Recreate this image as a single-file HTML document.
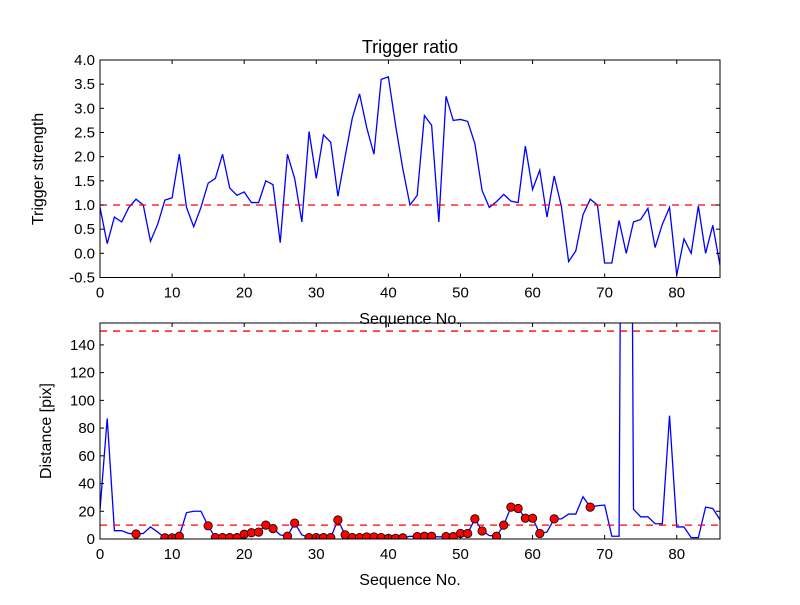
<!DOCTYPE html>
<html><head><meta charset="utf-8"><style>
body{margin:0;background:#fff;}
svg text{font-family:"Liberation Sans","DejaVu Sans",sans-serif;}
</style></head><body>
<svg id="c" width="800" height="600" xmlns="http://www.w3.org/2000/svg"></svg>
<script>
const seq = Array.from({length:87},(_,i)=>i);
const strength = [0.95,0.2,0.75,0.65,0.95,1.12,1.0,0.25,0.6,1.1,1.15,2.05,0.95,0.55,0.95,1.45,1.55,2.05,1.35,1.2,1.27,1.05,1.05,1.5,1.42,0.22,2.05,1.55,0.65,2.52,1.55,2.45,2.3,1.18,2.0,2.8,3.3,2.6,2.05,3.6,3.65,2.65,1.75,1.0,1.2,2.85,2.65,0.65,3.25,2.75,2.77,2.73,2.27,1.3,0.95,1.07,1.22,1.08,1.05,2.22,1.32,1.72,0.75,1.6,0.97,-0.17,0.05,0.8,1.12,1.0,-0.2,-0.2,0.68,0.0,0.65,0.7,0.93,0.12,0.6,0.95,-0.45,0.3,0.0,0.98,0.0,0.58,-0.25];
const distance = [21,87,6,6,4,3.6,4,8.7,5,0.8,0.8,2,19,20,20,9.5,1,1,1,1,3.4,4.5,5,10,7.5,3,2,11.5,3,1,1,1,1,13.7,3,1,1,1.5,1.5,1,0.5,0.5,0.8,2,1.7,2,2,1.5,1.7,1.7,4,4,14.5,5.8,2.5,2,10,23,22,15,15,4,5,14.5,14.5,18,18,30.5,23,24,24.5,2,2,1000,21.5,16,16,11,11,89,8.7,8.7,1,1,23,22,14];
const markerIdx = [5,9,10,11,15,16,17,18,19,20,21,22,23,24,26,27,29,30,31,32,33,34,35,36,37,38,39,40,41,42,44,45,46,48,49,50,51,52,53,55,56,57,58,59,60,61,63,68];
const xTicks = [0,10,20,30,40,50,60,70,80];
const yTicksTop = [-0.5,0.0,0.5,1.0,1.5,2.0,2.5,3.0,3.5,4.0];
const yTicksBot = [0,20,40,60,80,100,120,140];
const threshTop = [1.0];
const threshBot = [10,150];

const NS="http://www.w3.org/2000/svg";
const svg=document.getElementById('c');
function mk(tag,attrs,parent){const e=document.createElementNS(NS,tag);for(const k in attrs)e.setAttribute(k,attrs[k]);(parent||svg).appendChild(e);return e;}
const L=100,R=720;
const X=v=>L+(v-0)/(86-0)*(R-L);
const T={top:60,bot:277.5,min:-0.5,max:4.0};
const B={top:323,bot:539,min:0,max:155.8};
const Yt=v=>T.bot-(v-T.min)/(T.max-T.min)*(T.bot-T.top);
const Yb=v=>B.bot-(v-B.min)/(B.max-B.min)*(B.bot-B.top);

const defs=mk('defs',{});
const cp=mk('clipPath',{id:'cb'},defs);mk('rect',{x:L,y:B.top,width:R-L,height:B.bot-B.top},cp);
const cp2=mk('clipPath',{id:'ct'},defs);mk('rect',{x:L,y:T.top,width:R-L,height:T.bot-T.top},cp2);

function axes(P,Y,yt,fmt,name){
  const g=mk('g',{});
  
  
  xTicks.forEach(v=>{
    const x=X(v);
    mk('line',{x1:x,x2:x,y1:P.bot,y2:P.bot-4,stroke:'#000'},g);
    mk('line',{x1:x,x2:x,y1:P.top,y2:P.top+4,stroke:'#000'},g);
    const t=mk('text',{x:x,y:P.bot+20,'text-anchor':'middle','font-size':15},g);t.textContent=v;
    
    
  });
  yt.forEach(v=>{
    const y=Y(v);
    mk('line',{x1:L,x2:L+4,y1:y,y2:y,stroke:'#000'},g);
    mk('line',{x1:R,x2:R-4,y1:y,y2:y,stroke:'#000'},g);
    const t=mk('text',{x:L-5,y:y+5,'text-anchor':'end','font-size':15},g);t.textContent=fmt(v);
    
    
  });
  return g;
}

// top
const tl=mk('polyline',{points:seq.map(i=>X(i)+','+Yt(strength[i])).join(' '),fill:'none',stroke:'#0000ff','stroke-width':1.3,'clip-path':'url(#ct)'});


threshTop.forEach(v=>{const l=mk('line',{x1:L,x2:R,y1:Yt(v),y2:Yt(v),stroke:'#ff0000','stroke-width':1.3,'stroke-dasharray':'7,6'});

});
mk('rect',{x:L,y:T.top,width:R-L,height:T.bot-T.top,fill:'none',stroke:'#000','stroke-width':1});
axes(T,Yt,yTicksTop,v=>v.toFixed(1),'top');

// bottom
const bl=mk('polyline',{points:seq.map(i=>X(i)+','+Yb(distance[i])).join(' '),fill:'none',stroke:'#0000ff','stroke-width':1.3,'clip-path':'url(#cb)'});


threshBot.forEach(v=>{const l=mk('line',{x1:L,x2:R,y1:Yb(v),y2:Yb(v),stroke:'#ff0000','stroke-width':1.3,'stroke-dasharray':'7,6'});

});
markerIdx.forEach(i=>{const c=mk('circle',{cx:X(i),cy:Yb(distance[i]),r:4.2,fill:'#ff0000',stroke:'#000','stroke-width':0.8,'clip-path':'url(#cb)'});

});
mk('rect',{x:L,y:B.top,width:R-L,height:B.bot-B.top,fill:'none',stroke:'#000','stroke-width':1});
axes(B,Yb,yTicksBot,v=>String(v),'bottom');

function txt(s,x,y,size,name,rot){const t=mk('text',{x:x,y:y,'text-anchor':'middle','font-size':size});t.textContent=s;
if(rot)t.setAttribute('transform','rotate(-90 '+x+' '+y+')');

}
txt('Trigger ratio',410,53,18,'chart-title');
txt('Sequence No.',410,324,16,'top-x-axis-title');
txt('Sequence No.',410,585,16,'bottom-x-axis-title');
txt('Trigger strength',43,169,16,'top-y-axis-title',true);
txt('Distance [pix]',51,431,16,'bottom-y-axis-title',true);
</script>
</body></html>
